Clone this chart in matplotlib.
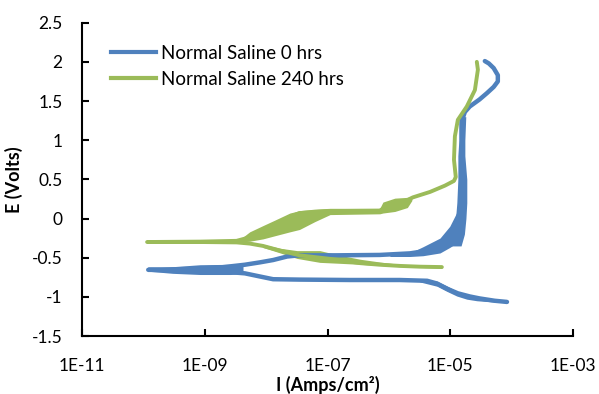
import matplotlib
matplotlib.use("Agg")
import matplotlib.pyplot as plt
from matplotlib.lines import Line2D

plt.rcParams['font.family'] = ['Lato', 'DejaVu Sans']

# Normal Saline 0 hrs: scan from cathodic end through Ecorr to the anodic end
blue_i = [8.4e-5, 5.3e-5, 3.0e-5, 2.08e-5, 1.33e-5, 8.8e-6, 6.1e-6, 4.2e-6, 1.5e-6, 2.3e-7,
          3.5e-8, 1.3e-8, 7.9e-9, 4.5e-9, 1.8e-9, 5.7e-10, 1.2e-10,
          5.7e-10, 1.8e-9, 4.5e-9, 7.9e-9, 1.3e-8, 2.2e-8, 3.5e-8, 1.4e-7, 7.1e-7,
          2.2e-6, 3.6e-6, 6.1e-6, 8.8e-6, 1.1e-5, 1.28e-5, 1.43e-5, 1.49e-5, 1.55e-5, 1.55e-5,
          1.55e-5, 1.73e-5, 2.08e-5, 3.0e-5, 3.95e-5, 5.1e-5, 5.96e-5, 5.96e-5, 5.1e-5, 4.25e-5,
          3.66e-5]
blue_e = [-1.065, -1.05, -1.02, -0.995, -0.955, -0.895, -0.83, -0.795, -0.785, -0.785,
          -0.78, -0.775, -0.74, -0.70, -0.675, -0.665, -0.655,
          -0.645, -0.625, -0.59, -0.56, -0.53, -0.485, -0.47, -0.47, -0.465,
          -0.445, -0.42, -0.35, -0.27, -0.18, -0.10, 0.0, 0.3, 0.7, 1.0,
          1.25, 1.36, 1.43, 1.52, 1.6, 1.68, 1.75, 1.83, 1.92, 1.98,
          2.01]

# noisy regions of the 0 hrs scan (spread of E at a given current)
blue_tip_i = [1.28e-10, 3.0e-10, 8.4e-10, 2.6e-9, 4.2e-9]
blue_tip_lo = [-0.675, -0.70, -0.715, -0.715, -0.705]
blue_tip_hi = [-0.635, -0.615, -0.59, -0.585, -0.585]

blue_cat_i = [3.2e-6, 6.1e-6, 8.8e-6, 1.28e-5, 1.86e-5, 2.71e-5, 3.95e-5, 6.4e-5, 8.4e-5]
blue_cat_lo = [-0.81, -0.865, -0.93, -0.99, -1.03, -1.05, -1.06, -1.07, -1.075]
blue_cat_hi = [-0.77, -0.80, -0.86, -0.93, -0.975, -1.01, -1.03, -1.05, -1.055]

blue_bend_i = [1.04e-6, 2.2e-6, 3.6e-6, 6.8e-6, 9.8e-6, 1.28e-5, 1.6e-5]
blue_bend_lo = [-0.485, -0.485, -0.475, -0.44, -0.37, -0.31, -0.22]
blue_bend_hi = [-0.455, -0.44, -0.36, -0.25, -0.10, 0.08, 0.05]

# passive region: spread of current at a given E
blue_pass_e = [-0.35, -0.2, 0.0, 0.2, 0.5, 0.8, 1.0, 1.3]
blue_pass_left = [1.0e-5, 1.15e-5, 1.22e-5, 1.28e-5, 1.33e-5, 1.33e-5, 1.38e-5, 1.38e-5]
blue_pass_right = [1.5e-5, 1.7e-5, 1.8e-5, 1.86e-5, 1.86e-5, 1.73e-5, 1.73e-5, 1.79e-5]

# Normal Saline 240 hrs
green_i = [7.3e-6, 3.2e-6, 1.5e-6, 7.1e-7, 3.4e-7, 1.8e-7, 7.5e-8, 3.5e-8, 1.7e-8, 8.9e-9,
           5.4e-9, 3.3e-9, 8.4e-10, 1.15e-10,
           8.4e-10, 3.3e-9, 5.4e-9, 8.9e-9, 1.39e-8, 2.44e-8, 3.5e-8, 1.1e-7, 7.1e-7, 8.6e-7,
           1.25e-6, 1.82e-6, 2.46e-6, 4.7e-6, 8.2e-6, 1.15e-5, 1.23e-5, 1.15e-5, 1.19e-5, 1.33e-5,
           1.86e-5, 2.52e-5, 2.82e-5, 2.71e-5]
green_e = [-0.62, -0.615, -0.605, -0.59, -0.57, -0.535, -0.50, -0.47, -0.41, -0.35,
           -0.32, -0.305, -0.30, -0.30,
           -0.295, -0.285, -0.24, -0.17, -0.08, 0.02, 0.07, 0.095, 0.10, 0.14,
           0.18, 0.22, 0.27, 0.34, 0.42, 0.48, 0.53, 0.75, 1.05, 1.26,
           1.43, 1.64, 1.90, 2.0]

green_an_i = [3.7e-9, 5.4e-9, 8.9e-9, 1.39e-8, 2.44e-8, 3.5e-8, 6.2e-8, 1.1e-7, 7.1e-7, 8.0e-7,
              1.25e-6, 2.0e-6, 2.37e-6]
green_an_lo = [-0.30, -0.29, -0.26, -0.22, -0.17, -0.14, -0.04, 0.05, 0.06, 0.07, 0.09, 0.14, 0.23]
green_an_hi = [-0.27, -0.17, -0.09, -0.02, 0.07, 0.10, 0.12, 0.13, 0.13, 0.21, 0.26, 0.27, 0.28]

green_cat_i = [8.9e-9, 1.7e-8, 3.2e-8, 7.5e-8, 1.4e-7, 3.4e-7, 7.1e-7, 1.5e-6, 3.2e-6, 7.3e-6]
green_cat_lo = [-0.37, -0.44, -0.51, -0.56, -0.57, -0.585, -0.60, -0.615, -0.625, -0.635]
green_cat_hi = [-0.33, -0.38, -0.41, -0.41, -0.46, -0.52, -0.555, -0.585, -0.60, -0.605]

x_ticks = [1e-11, 1e-9, 1e-7, 1e-5, 1e-3]
x_labels = ['1E-11', '1E-09', '1E-07', '1E-05', '1E-03']
y_ticks = [-1.5, -1, -0.5, 0, 0.5, 1, 1.5, 2, 2.5]
y_labels = ['-1.5', '-1', '-0.5', '0', '0.5', '1', '1.5', '2', '2.5']

blue = '#4F81BD'
green = '#9BBB59'

fig = plt.figure(figsize=(5.99, 3.94), dpi=100)
ax = fig.add_axes([0.1369, 0.1472, 0.8197, 0.7952])

ax.plot(blue_i, blue_e, color=blue, lw=3.2, solid_joinstyle='round', solid_capstyle='round')
ax.fill_between(blue_tip_i, blue_tip_lo, blue_tip_hi, color=blue, lw=0)
ax.fill_between(blue_cat_i, blue_cat_lo, blue_cat_hi, color=blue, lw=0)
ax.fill_between(blue_bend_i, blue_bend_lo, blue_bend_hi, color=blue, lw=0)
ax.fill_betweenx(blue_pass_e, blue_pass_left, blue_pass_right, color=blue, lw=0)

ax.plot(green_i, green_e, color=green, lw=2.8, solid_joinstyle='round', solid_capstyle='round')
ax.fill_between(green_an_i, green_an_lo, green_an_hi, color=green, lw=0)
ax.fill_between(green_cat_i, green_cat_lo, green_cat_hi, color=green, lw=0)

ax.set_xscale('log')
ax.set_xlim(1e-11, 1e-3)
ax.set_ylim(-1.5, 2.5)
ax.set_xticks(x_ticks)
ax.set_xticklabels(x_labels)
ax.set_yticks(y_ticks)
ax.set_yticklabels(y_labels)
ax.minorticks_off()

for side in ['top', 'right']:
    ax.spines[side].set_visible(False)
for side in ['left', 'bottom']:
    ax.spines[side].set_linewidth(1.5)
ax.tick_params(direction='in', length=5, width=1.5, labelsize=12.5, colors='black')
ax.tick_params(axis='x', pad=16)
ax.tick_params(axis='y', pad=14)

ax.set_xlabel('I (Amps/cm²)', fontsize=13, fontweight='bold', labelpad=1)
ax.set_ylabel('E (Volts)', fontsize=13, fontweight='bold', labelpad=6)

handles = [Line2D([], [], color=blue, lw=3),
           Line2D([], [], color=green, lw=3)]
fig.legend(handles, ['Normal Saline 0 hrs', 'Normal Saline 240 hrs'],
           loc='upper left', bbox_to_anchor=(0.186, 0.887), frameon=False,
           fontsize=13.5, handlelength=2.4, handletextpad=0.25, labelspacing=0.5,
           borderpad=0, borderaxespad=0)

fig.savefig('out.png', dpi=100)
